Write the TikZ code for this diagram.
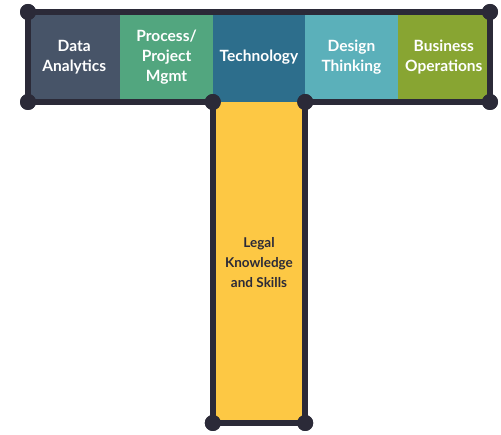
\documentclass[tikz,border=0pt]{standalone}
\usepackage{fontspec}
\setmainfont{Lato}
\usetikzlibrary{positioning}
\definecolor{frameink}{HTML}{2B2A38}
\definecolor{slate}{HTML}{475468}
\definecolor{jade}{HTML}{52A67F}
\definecolor{petrol}{HTML}{2D6E8C}
\definecolor{aqua}{HTML}{5BB0BA}
\definecolor{olive}{HTML}{88A532}
\definecolor{mustard}{HTML}{FDC844}

\begin{document}
\begin{tikzpicture}[x=1pt, y=-1pt,
  cell/.style={minimum width=92.4pt, minimum height=90pt, inner sep=0pt, outer sep=0pt, align=center, text=white, font=\bfseries\fontsize{15.5}{20}\selectfont},
  stem/.style={minimum width=92.4pt, minimum height=321pt, inner sep=0pt, outer sep=0pt, align=center, text=frameink, fill=mustard, font=\bfseries\fontsize{13.5}{20}\selectfont},
  dot/.style={circle, fill=frameink, minimum size=16pt, inner sep=0pt},
  frame/.style={draw=frameink, line width=6pt, line join=miter}
]
\useasboundingbox (0,0) rectangle (501,435);

% top bar
\node[cell, fill=slate] (data) at (74.2,57) {Data\\Analytics};
\node[cell, fill=jade, right=0pt of data] (proc) {Process/\\Project\\Mgmt};
\node[cell, fill=petrol, right=0pt of proc] (tech) {Technology};
\node[cell, fill=aqua, right=0pt of tech] (design) {Design\\Thinking};
\node[cell, fill=olive, right=0pt of design] (biz) {Business\\Operations};

% stem
\node[stem, below=0pt of tech] (legal) {Legal\\Knowledge\\and Skills};

% corners
\node[dot] (tl) at (28,12) {};
\node[dot] (tr) at (490,12) {};
\node[dot] (br) at (490,102) {};
\node[dot] (sr) at (305.2,102) {};
\node[dot] (sbr) at (305.2,423) {};
\node[dot] (sbl) at (212.8,423) {};
\node[dot] (sl) at (212.8,102) {};
\node[dot] (bl) at (28,102) {};

\draw[frame] (tl.center) -- (tr.center) -- (br.center) -- (sr.center) -- (sbr.center)
  -- (sbl.center) -- (sl.center) -- (bl.center) -- cycle;
\foreach \c in {tl,tr,br,sr,sbr,sbl,sl,bl}
  \fill[frameink] (\c) circle (8pt);
\end{tikzpicture}
\end{document}
